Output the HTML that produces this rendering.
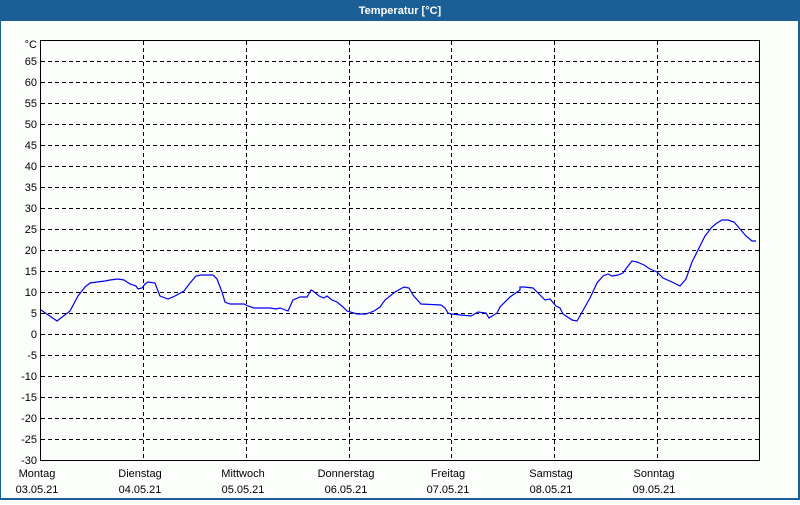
<!DOCTYPE html>
<html><head><meta charset="utf-8"><style>
body{margin:0;width:800px;height:500px;overflow:hidden;background:#fff;font-family:"Liberation Sans",sans-serif}
</style></head><body>
<svg width="800" height="500" xmlns="http://www.w3.org/2000/svg" font-family="Liberation Sans, sans-serif" font-size="11">
<rect x="0" y="0" width="800" height="500" fill="#1a5f96"/>
<rect x="1" y="21" width="797" height="477" fill="#fcfefc"/>
<text x="400" y="14" fill="#fff" font-weight="bold" text-anchor="middle" font-size="11">Temperatur [°C]</text>
<g stroke="#000" stroke-dasharray="4,3" stroke-width="1">
<line x1="41" x2="760" y1="61.5" y2="61.5"/><line x1="41" x2="760" y1="82.5" y2="82.5"/><line x1="41" x2="760" y1="103.5" y2="103.5"/><line x1="41" x2="760" y1="124.5" y2="124.5"/><line x1="41" x2="760" y1="145.5" y2="145.5"/><line x1="41" x2="760" y1="166.5" y2="166.5"/><line x1="41" x2="760" y1="187.5" y2="187.5"/><line x1="41" x2="760" y1="208.5" y2="208.5"/><line x1="41" x2="760" y1="229.5" y2="229.5"/><line x1="41" x2="760" y1="250.5" y2="250.5"/><line x1="41" x2="760" y1="271.5" y2="271.5"/><line x1="41" x2="760" y1="292.5" y2="292.5"/><line x1="41" x2="760" y1="313.5" y2="313.5"/><line x1="41" x2="760" y1="334.5" y2="334.5"/><line x1="41" x2="760" y1="355.5" y2="355.5"/><line x1="41" x2="760" y1="376.5" y2="376.5"/><line x1="41" x2="760" y1="397.5" y2="397.5"/><line x1="41" x2="760" y1="418.5" y2="418.5"/><line x1="41" x2="760" y1="439.5" y2="439.5"/>
<line x1="143.5" x2="143.5" y1="41" y2="460"/><line x1="246.5" x2="246.5" y1="41" y2="460"/><line x1="349.5" x2="349.5" y1="41" y2="460"/><line x1="451.5" x2="451.5" y1="41" y2="460"/><line x1="554.5" x2="554.5" y1="41" y2="460"/><line x1="657.5" x2="657.5" y1="41" y2="460"/>
</g>
<rect x="40.5" y="40.5" width="719" height="420" fill="none" stroke="#000" stroke-width="1"/>
<g text-anchor="end" fill="#000">
<text x="37" y="48">°C</text>
<text x="37" y="65">65</text><text x="37" y="86">60</text><text x="37" y="107">55</text><text x="37" y="128">50</text><text x="37" y="149">45</text><text x="37" y="170">40</text><text x="37" y="191">35</text><text x="37" y="212">30</text><text x="37" y="233">25</text><text x="37" y="254">20</text><text x="37" y="275">15</text><text x="37" y="296">10</text><text x="37" y="317">5</text><text x="37" y="338">0</text><text x="37" y="359">-5</text><text x="37" y="380">-10</text><text x="37" y="401">-15</text><text x="37" y="422">-20</text><text x="37" y="443">-25</text><text x="37" y="464">-30</text>
</g>
<g text-anchor="middle" fill="#000">
<text x="37" y="477">Montag</text><text x="37" y="493">03.05.21</text>
<text x="140" y="477">Dienstag</text><text x="140" y="493">04.05.21</text>
<text x="243" y="477">Mittwoch</text><text x="243" y="493">05.05.21</text>
<text x="346" y="477">Donnerstag</text><text x="346" y="493">06.05.21</text>
<text x="448" y="477">Freitag</text><text x="448" y="493">07.05.21</text>
<text x="551" y="477">Samstag</text><text x="551" y="493">08.05.21</text>
<text x="654" y="477">Sonntag</text><text x="654" y="493">09.05.21</text>
</g>
<polyline fill="none" stroke="#0000ee" stroke-width="1.2" points="41,310 57,321 70,311 78,296 85,287 90,283 97,282 105,281 110,280 118,279 124,280 130,284 136,286 138,289 142,288 145,284 148,282 155,283 158,291 160,296 168,299 175,296 184,291 190,283 196,276 201,275 213,275 217,279 222,292 225,302 230,304 244,304 248,306 254,308 270,308 276,309 280,308 288,311 293,300 300,297 307,297 311,290 313,291 319,296 324,298 327,296 332,300 337,302 343,307 347,311 357,314 366,314 374,311 380,307 385,300 395,292 404,287 409,288 413,295 421,304 441,305 445,308 448,313 451,314 471,316 478,312 486,313 489,318 497,313 500,307 510,297 520,290 520,287 524,287 533,288 538,293 545,300 550,299 556,306 560,308 563,314 572,320 577,321 581,314 590,298 597,283 603,276 608,274 612,276 618,275 623,273 628,266 632,261 637,262 644,265 650,269 657,272 663,278 672,282 680,286 686,279 692,262 698,250 705,236 712,227 717,223 722,220 728,220 734,222 740,229 746,236 752,241 756,241"/>
</svg>
</body></html>
